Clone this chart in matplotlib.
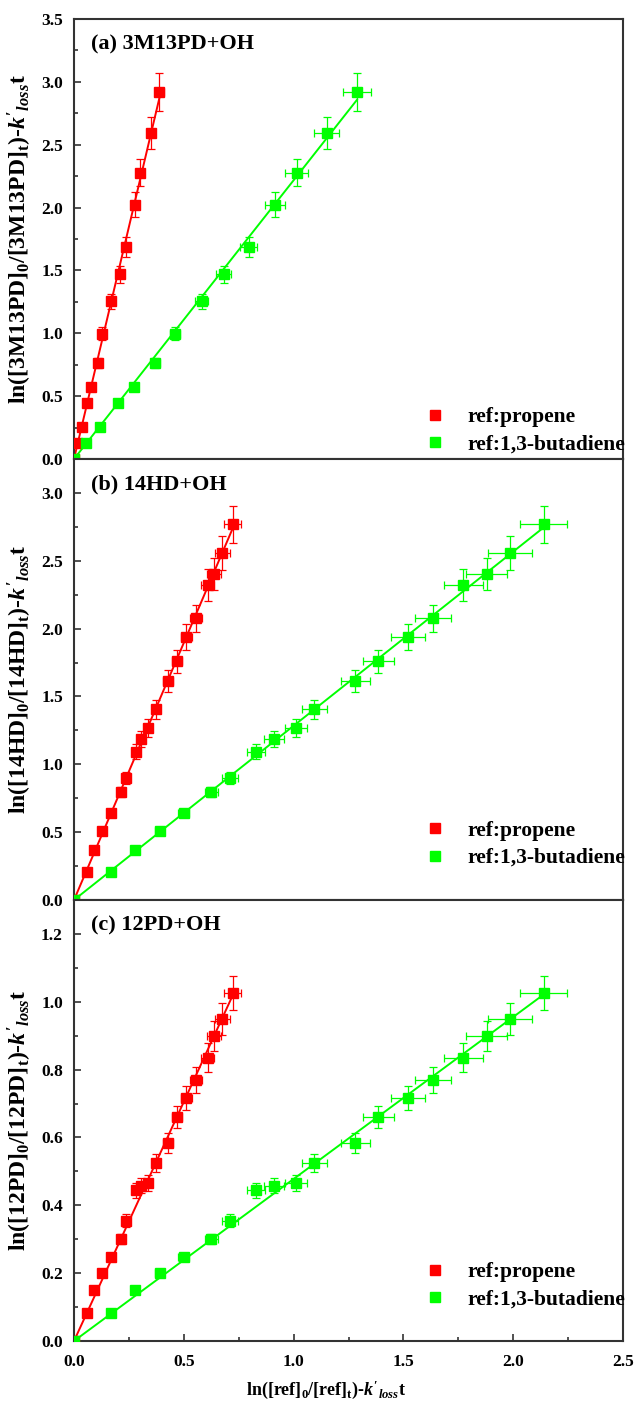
import numpy as np
import matplotlib
matplotlib.use("Agg")
import matplotlib.pyplot as plt
from matplotlib.lines import Line2D
from matplotlib.ticker import MultipleLocator

plt.rcParams['font.family'] = ['Liberation Serif', 'DejaVu Serif']
plt.rcParams['font.weight'] = 'bold'
plt.rcParams['mathtext.fontset'] = 'custom'
plt.rcParams['mathtext.rm'] = 'Liberation Serif:bold'
plt.rcParams['mathtext.it'] = 'Liberation Serif:bold:italic'
plt.rcParams['mathtext.bf'] = 'Liberation Serif:bold'

# ---------------- data ----------------
panel_titles = ["(a) 3M13PD+OH", "(b) 14HD+OH", "(c) 12PD+OH"]
compounds = ["3M13PD", "14HD", "12PD"]
series_labels = ["ref:propene", "ref:1,3-butadiene"]

# panel (a)
a_x_propene = [0, 0.014, 0.035, 0.057, 0.077, 0.108, 0.129, 0.169, 0.211, 0.236, 0.278, 0.301, 0.351, 0.389]
a_x_butadiene = [0, 0.053, 0.120, 0.202, 0.275, 0.371, 0.459, 0.582, 0.682, 0.795, 0.915, 1.014, 1.150, 1.289]
a_y = [0, 0.125, 0.256, 0.442, 0.574, 0.760, 0.998, 1.254, 1.468, 1.685, 2.024, 2.278, 2.593, 2.921]
a_yerr = [0, 0.01, 0.015, 0.02, 0.03, 0.04, 0.05, 0.06, 0.07, 0.08, 0.10, 0.11, 0.13, 0.15]
a_xerr_propene = [0, 0.001, 0.002, 0.003, 0.004, 0.005, 0.006, 0.008, 0.01, 0.012, 0.014, 0.015, 0.018, 0.02]
a_xerr_butadiene = [0, 0.003, 0.006, 0.01, 0.014, 0.019, 0.023, 0.03, 0.035, 0.04, 0.046, 0.052, 0.057, 0.065]

# panels (b) and (c) share the reference-compound axis
bc_x_propene = [0, 0.057, 0.091, 0.129, 0.167, 0.213, 0.239, 0.284, 0.307, 0.337, 0.372, 0.428,
                0.469, 0.512, 0.555, 0.608, 0.638, 0.676, 0.722]
bc_x_butadiene = [0, 0.167, 0.280, 0.391, 0.500, 0.626, 0.710, 0.828, 0.910, 1.009, 1.094, 1.281,
                  1.386, 1.522, 1.636, 1.773, 1.880, 1.986, 2.138]
bc_xerr_propene = [0, 0.003, 0.005, 0.006, 0.008, 0.011, 0.012, 0.014, 0.015, 0.017, 0.019, 0.021,
                   0.023, 0.026, 0.028, 0.03, 0.032, 0.034, 0.038]
bc_xerr_butadiene = [0, 0.008, 0.014, 0.02, 0.025, 0.031, 0.036, 0.041, 0.046, 0.05, 0.057, 0.065,
                     0.071, 0.078, 0.082, 0.089, 0.094, 0.1, 0.108]

b_y = [0, 0.209, 0.365, 0.505, 0.641, 0.796, 0.900, 1.092, 1.188, 1.267, 1.405, 1.615,
       1.758, 1.935, 2.076, 2.322, 2.404, 2.559, 2.768]
b_yerr = [0, 0.01, 0.02, 0.025, 0.03, 0.04, 0.045, 0.055, 0.06, 0.064, 0.07, 0.08,
          0.088, 0.096, 0.10, 0.115, 0.118, 0.126, 0.136]

c_y = [0, 0.082, 0.151, 0.200, 0.248, 0.300, 0.355, 0.445, 0.458, 0.466, 0.525, 0.583,
       0.660, 0.717, 0.769, 0.835, 0.900, 0.950, 1.027]
c_yerr = [0, 0.004, 0.008, 0.01, 0.012, 0.015, 0.018, 0.022, 0.023, 0.023, 0.027, 0.03,
          0.033, 0.036, 0.038, 0.042, 0.044, 0.047, 0.05]

x_ticks = [0.0, 0.5, 1.0, 1.5, 2.0, 2.5]
y_ticks_a = [0.0, 0.5, 1.0, 1.5, 2.0, 2.5, 3.0, 3.5]
y_ticks_b = [0.0, 0.5, 1.0, 1.5, 2.0, 2.5, 3.0]
y_ticks_c = [0.0, 0.2, 0.4, 0.6, 0.8, 1.0, 1.2]

RED = '#ff0000'
GREEN = '#00ff00'

panels = [
    dict(xp=a_x_propene, xb=a_x_butadiene, y=a_y, yerr=a_yerr,
         xep=a_xerr_propene, xeb=a_xerr_butadiene, ylim=(0, 3.5), yt=y_ticks_a,
         ymin=0.25, leg_y=0.064),
    dict(xp=bc_x_propene, xb=bc_x_butadiene, y=b_y, yerr=b_yerr,
         xep=bc_xerr_propene, xeb=bc_xerr_butadiene, ylim=(0, 3.25), yt=y_ticks_b,
         ymin=0.25, leg_y=0.126),
    dict(xp=bc_x_propene, xb=bc_x_butadiene, y=c_y, yerr=c_yerr,
         xep=bc_xerr_propene, xeb=bc_xerr_butadiene, ylim=(0, 1.3), yt=y_ticks_c,
         ymin=0.1, leg_y=0.125),
]

fig = plt.figure(figsize=(6.36, 14.06), dpi=100)
left, width = 74 / 636, 549 / 636
tops = [19, 459, 900]
bottoms = [459, 900, 1341]

spine_color = '#333333'

for i, p in enumerate(panels):
    top, bot = tops[i], bottoms[i]
    ax = fig.add_axes([left, (1406 - bot) / 1406, width, (bot - top) / 1406])
    for xs, xe, col in ((p['xp'], p['xep'], RED), (p['xb'], p['xeb'], GREEN)):
        x = np.array(xs)
        y = np.array(p['y'])
        slope = np.sum(x * y) / np.sum(x * x)
        xl = np.array([0, x.max()])
        ax.plot(xl, slope * xl, color=col, lw=1.4, zorder=2)
        ax.errorbar(x, y, yerr=p['yerr'], xerr=xe, fmt='none', ecolor=col,
                    elinewidth=0.9, capsize=3, capthick=0.9, zorder=3)
        ax.plot(x, y, 's', color=col, ms=7, mec=col, zorder=4)
    ax.set_xlim(0, 2.5)
    ax.set_ylim(*p['ylim'])
    ax.set_xticks(x_ticks)
    ax.set_yticks(p['yt'])
    ax.yaxis.set_minor_locator(MultipleLocator(p['ymin']))
    ax.xaxis.set_minor_locator(MultipleLocator(0.25))
    ax.yaxis.set_major_formatter(matplotlib.ticker.FormatStrFormatter('%.1f'))
    ax.xaxis.set_major_formatter(matplotlib.ticker.FormatStrFormatter('%.1f'))
    ax.tick_params(which='both', direction='in', top=False, right=False,
                   labelsize=12.5, width=1.2, color=spine_color)
    ax.tick_params(which='major', length=5)
    ax.tick_params(which='minor', length=3)
    ax.tick_params(axis='y', which='major', pad=8)
    ax.tick_params(axis='x', which='major', pad=9)
    if i < 2:
        ax.tick_params(axis='x', which='both', bottom=False, labelbottom=False)
    for s in ax.spines.values():
        s.set_linewidth(1.5)
        s.set_color(spine_color)
    for lab in ax.get_xticklabels() + ax.get_yticklabels():
        lab.set_fontweight('bold')
    ax.text(0.031, 0.942, panel_titles[i], transform=ax.transAxes, fontsize=16,
            fontweight='bold', ha='left', va='center')
    cmp = compounds[i]
    ax.set_ylabel("ln([%s]$_\\mathrm{0}$/[%s]$_\\mathrm{t}$)-$k'_{loss}$t" % (cmp, cmp),
                  fontsize=17, fontweight='bold')
    ax.yaxis.set_label_coords(-0.072, 0.5)
    handles = [Line2D([], [], ls='none', marker='s', ms=6.5, color=RED),
               Line2D([], [], ls='none', marker='s', ms=6.5, color=GREEN)]
    ax.legend(handles, series_labels, loc='center left',
              bbox_to_anchor=(0.638, p['leg_y']), frameon=False,
              handlelength=1.0, handletextpad=1.0, labelspacing=0.33, borderpad=0,
              borderaxespad=0, prop=dict(weight='bold', size=15.5))
    if i == 2:
        ax.set_xlabel("ln([ref]$_\\mathrm{0}$/[ref]$_\\mathrm{t}$)-$k'_{loss}$t",
                      fontsize=13, fontweight='bold', labelpad=10)
        ax.xaxis.set_label_coords(0.459, -0.085)

fig.savefig("out.png", dpi=100)
